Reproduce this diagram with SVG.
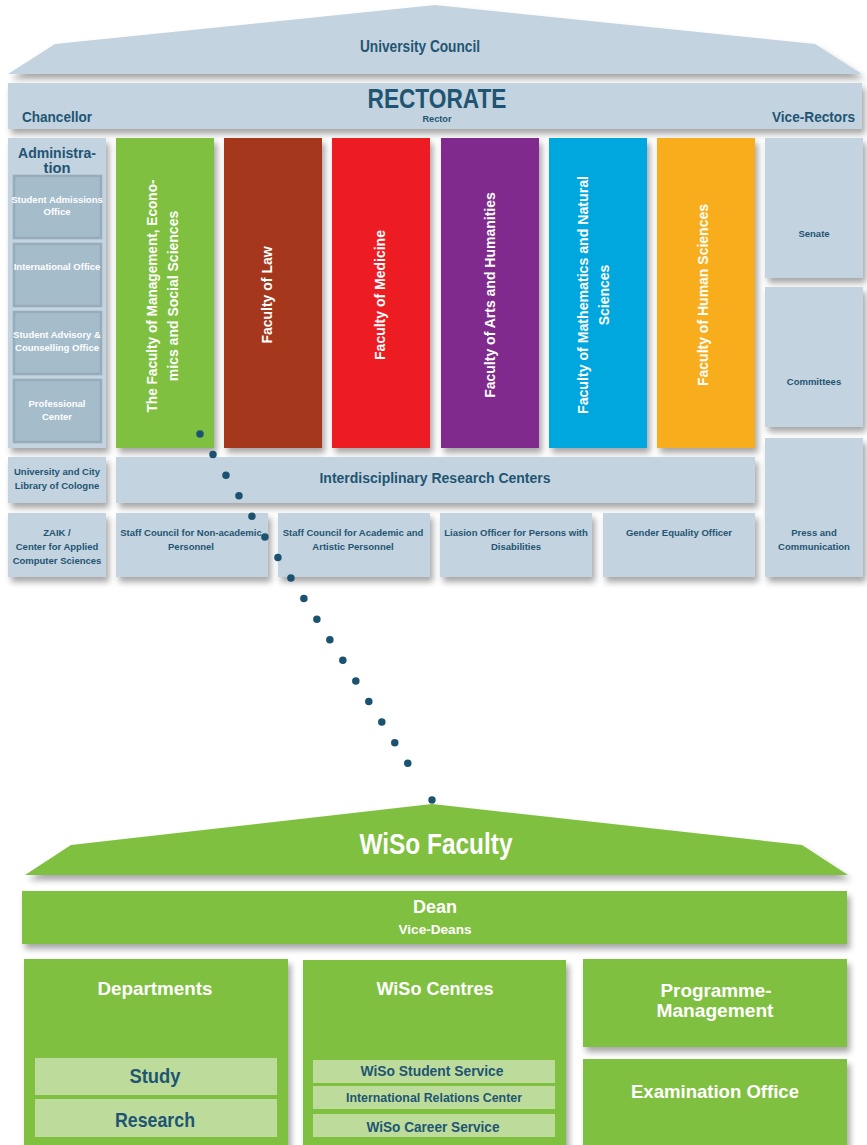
<svg xmlns="http://www.w3.org/2000/svg" width="867" height="1145" viewBox="0 0 867 1145">
<defs>
<filter id="sh" x="-10%" y="-10%" width="130%" height="140%">
<feDropShadow dx="3" dy="5" stdDeviation="3" flood-color="#000" flood-opacity="0.35"/>
</filter>
<style>
.bx{fill:#c3d3df;filter:url(#sh)}
.in{fill:#a5bccb;stroke:#97abba;stroke-width:2.5}
.g{fill:#80c041;filter:url(#sh)}
.lg{fill:#bddc9b}
.t{font-family:"Liberation Sans",Arial,sans-serif;font-weight:bold;fill:#1f5573;text-anchor:middle}
.c{font-family:"Liberation Sans",Arial,sans-serif;font-weight:bold}
.m{text-anchor:middle}
.st{text-anchor:start}
.en{text-anchor:end}
.w{fill:#fff}
.d{fill:#1f5573}
.s9{font-size:9.5px}
.f{font-family:"Liberation Sans",Arial,sans-serif;font-weight:bold;fill:#fff;text-anchor:middle;font-size:14px}
</style>
</defs>
<rect x="0" y="0" width="867" height="1145" fill="#fff"/>

<g id="university-council">
<polygon class="bx" points="8,74 55,44 435,5 815,44 862,74"/>
<text class="c m d" x="420" y="52" font-size="16" textLength="120" lengthAdjust="spacingAndGlyphs">University Council</text>
</g>

<g id="rectorate">
<rect class="bx" x="8" y="83" width="854" height="46"/>
<text class="c m d" x="437" y="108" font-size="28" textLength="139" lengthAdjust="spacingAndGlyphs">RECTORATE</text>
<text class="c m d" x="437" y="122" font-size="9.5" textLength="29" lengthAdjust="spacingAndGlyphs">Rector</text>
<text class="c st d" x="22" y="122" font-size="15" textLength="70" lengthAdjust="spacingAndGlyphs">Chancellor</text>
<text class="c en d" x="855" y="122" font-size="15" textLength="83" lengthAdjust="spacingAndGlyphs">Vice-Rectors</text>
</g>

<g id="administration">
<rect class="bx" x="8" y="138" width="98" height="310"/>
<text class="c m d" x="57" y="158" font-size="14" textLength="78" lengthAdjust="spacingAndGlyphs">Administra-</text>
<text class="c m d" x="57" y="173" font-size="14" textLength="27" lengthAdjust="spacingAndGlyphs">tion</text>
<rect class="in" x="14" y="176" width="87" height="62"/>
<text class="t w s9" x="57" y="203">Student Admissions</text>
<text class="t w s9" x="57" y="215">Office</text>
<rect class="in" x="14" y="244" width="87" height="62"/>
<text class="t w s9" x="57" y="270">International Office</text>
<rect class="in" x="14" y="312" width="87" height="62"/>
<text class="t w s9" x="57" y="338">Student Advisory &amp;</text>
<text class="t w s9" x="57" y="351">Counselling Office</text>
<rect class="in" x="14" y="380" width="87" height="62"/>
<text class="t w s9" x="57" y="407">Professional</text>
<text class="t w s9" x="57" y="420">Center</text>
</g>

<g id="faculty-wiso">
<rect x="116" y="138" width="98" height="310" fill="#80c041" filter="url(#sh)"/>
<g transform="translate(165,296) rotate(-90)">
<text class="f" x="0" y="-8" textLength="233" lengthAdjust="spacingAndGlyphs">The Faculty of Management, Econo-</text>
<text class="f" x="0" y="13">mics and Social Sciences</text>
</g>
</g>
<g id="faculty-law">
<rect x="224" y="138" width="98" height="310" fill="#a5391b" filter="url(#sh)"/>
<text class="f" transform="translate(272,295) rotate(-90)">Faculty of Law</text>
</g>
<g id="faculty-medicine">
<rect x="332" y="138" width="98" height="310" fill="#ec1c24" filter="url(#sh)"/>
<text class="f" transform="translate(385,295) rotate(-90)">Faculty of Medicine</text>
</g>
<g id="faculty-arts">
<rect x="441" y="138" width="98" height="310" fill="#7f2a8c" filter="url(#sh)"/>
<text class="f" transform="translate(495,295) rotate(-90)">Faculty of Arts and Humanities</text>
</g>
<g id="faculty-math">
<rect x="549" y="138" width="98" height="310" fill="#00a6de" filter="url(#sh)"/>
<g transform="translate(598,295) rotate(-90)">
<text class="f" x="0" y="-10" textLength="238" lengthAdjust="spacingAndGlyphs">Faculty of Mathematics and Natural</text>
<text class="f" x="0" y="11">Sciences</text>
</g>
</g>
<g id="faculty-human">
<rect x="657" y="138" width="98" height="310" fill="#f8ae1a" filter="url(#sh)"/>
<text class="f" transform="translate(708,295) rotate(-90)">Faculty of Human Sciences</text>
</g>

<g id="senate">
<rect class="bx" x="765" y="138" width="98" height="140"/>
<text class="t s9" x="814" y="237">Senate</text>
</g>
<g id="committees">
<rect class="bx" x="765" y="287" width="98" height="140"/>
<text class="t s9" x="814" y="385">Committees</text>
</g>
<g id="press">
<rect class="bx" x="765" y="438" width="98" height="139"/>
<text class="t s9" x="814" y="536">Press and</text>
<text class="t s9" x="814" y="550">Communication</text>
</g>

<g id="library">
<rect class="bx" x="8" y="457" width="98" height="46"/>
<text class="t s9" x="57" y="475">University and City</text>
<text class="t s9" x="57" y="489">Library of Cologne</text>
</g>
<g id="research-centers">
<rect class="bx" x="116" y="457" width="639" height="46"/>
<text class="t" x="435" y="483" font-size="14">Interdisciplinary Research Centers</text>
</g>

<g id="zaik">
<rect class="bx" x="8" y="513" width="98" height="64"/>
<text class="t s9" x="57" y="536">ZAIK /</text>
<text class="t s9" x="57" y="550">Center for Applied</text>
<text class="t s9" x="57" y="564">Computer Sciences</text>
</g>
<g id="staff-nonacademic">
<rect class="bx" x="116" y="513" width="152" height="64"/>
<text class="t s9" x="191" y="536">Staff Council for Non-academic</text>
<text class="t s9" x="191" y="550">Personnel</text>
</g>
<g id="staff-academic">
<rect class="bx" x="278" y="513" width="152" height="64"/>
<text class="t s9" x="353" y="536">Staff Council for Academic and</text>
<text class="t s9" x="353" y="550">Artistic Personnel</text>
</g>
<g id="liaison">
<rect class="bx" x="440" y="513" width="152" height="64"/>
<text class="t s9" x="516" y="536">Liasion Officer for Persons with</text>
<text class="t s9" x="516" y="550">Disabilities</text>
</g>
<g id="gender">
<rect class="bx" x="603" y="513" width="152" height="64"/>
<text class="t s9" x="679" y="536">Gender Equality Officer</text>
</g>

<g id="connectors">
<line x1="200" y1="434" x2="420.7" y2="783.7" stroke="#1a5270" stroke-width="7.5" stroke-linecap="round" stroke-dasharray="0 24.33"/>
<circle cx="432" cy="800" r="3.7" fill="#1a5270"/>
</g>

<g id="wiso-faculty">
<polygon class="g" points="25,875 71,845 432,804 802,845 848,875"/>
<text class="c m w" x="436" y="854" font-size="29" textLength="153" lengthAdjust="spacingAndGlyphs">WiSo Faculty</text>
</g>
<g id="dean">
<rect class="g" x="22" y="891" width="825" height="53"/>
<text class="c m w" x="435" y="913" font-size="18" textLength="44" lengthAdjust="spacingAndGlyphs">Dean</text>
<text class="c m w" x="435" y="934" font-size="12.5" textLength="73" lengthAdjust="spacingAndGlyphs">Vice-Deans</text>
</g>
<g id="departments">
<rect class="g" x="24" y="959" width="264" height="200"/>
<text class="c m w" x="155" y="995" font-size="19" textLength="115" lengthAdjust="spacingAndGlyphs">Departments</text>
<rect class="lg" x="35" y="1058" width="242" height="37"/>
<text class="c m d" x="155" y="1083" font-size="20.5" textLength="51" lengthAdjust="spacingAndGlyphs">Study</text>
<rect class="lg" x="35" y="1099" width="242" height="38"/>
<text class="c m d" x="155" y="1127" font-size="20.5" textLength="80" lengthAdjust="spacingAndGlyphs">Research</text>
</g>
<g id="wiso-centres">
<rect class="g" x="303" y="960" width="263" height="200"/>
<text class="c m w" x="435" y="995" font-size="19" textLength="117" lengthAdjust="spacingAndGlyphs">WiSo Centres</text>
<rect class="lg" x="313" y="1060" width="242" height="23"/>
<text class="c m d" x="432" y="1076" font-size="15" textLength="143" lengthAdjust="spacingAndGlyphs">WiSo Student Service</text>
<rect class="lg" x="313" y="1086" width="242" height="23"/>
<text class="c m d" x="434" y="1102" font-size="12.5" textLength="176" lengthAdjust="spacingAndGlyphs">International Relations Center</text>
<rect class="lg" x="313" y="1114" width="242" height="23"/>
<text class="c m d" x="433" y="1132" font-size="15" textLength="133" lengthAdjust="spacingAndGlyphs">WiSo Career Service</text>
</g>
<g id="programme-management">
<rect class="g" x="583" y="959" width="264" height="88"/>
<text class="c m w" x="716" y="997" font-size="19" textLength="111" lengthAdjust="spacingAndGlyphs">Programme-</text>
<text class="c m w" x="715" y="1017" font-size="19" textLength="117" lengthAdjust="spacingAndGlyphs">Management</text>
</g>
<g id="examination-office">
<rect class="g" x="583" y="1059" width="264" height="100"/>
<text class="c m w" x="715" y="1098" font-size="19" textLength="168" lengthAdjust="spacingAndGlyphs">Examination Office</text>
</g>
</svg>
